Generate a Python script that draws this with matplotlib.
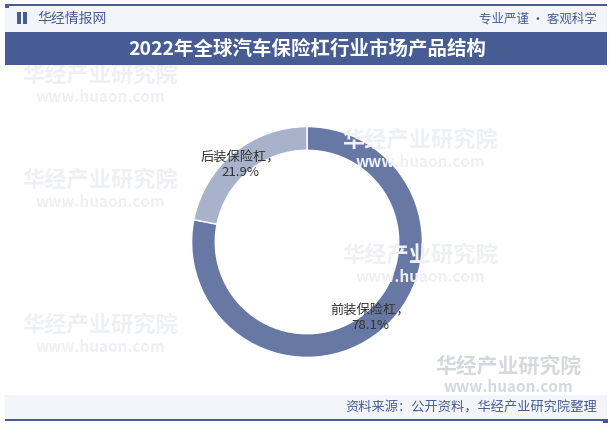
import matplotlib.pyplot as plt
from matplotlib.patches import Rectangle

plt.rcParams['font.family'] = ['Noto Sans CJK SC', 'DejaVu Sans']

# Data
categories = ['前装保险杠', '后装保险杠']
shares = [78.1, 21.9]
colors = ['#6778a4', '#a8b3cb']

title = '2022年全球汽车保险杠行业市场产品结构'
source = '资料来源：公开资料，华经产业研究院整理'

W, H = 612, 426
fig = plt.figure(figsize=(W / 100, H / 100), dpi=100)
fig.patch.set_facecolor('white')


def px(x, y):
    return x / W, 1 - y / H


# header / footer bands
fig.patches.append(Rectangle(px(5, 32), 602 / W, 26 / H, transform=fig.transFigure,
                             facecolor='#f3f5fa', edgecolor='none', zorder=0))
fig.patches.append(Rectangle(px(5, 65), 602 / W, 33 / H, transform=fig.transFigure,
                             facecolor='#465c92', edgecolor='none', zorder=1))
fig.patches.append(Rectangle(px(5, 420), 602 / W, 25 / H, transform=fig.transFigure,
                             facecolor='#f3f5fa', edgecolor='none', zorder=0))
fig.patches.append(Rectangle(px(5, 6), 602 / W, 1.6 / H, transform=fig.transFigure,
                             facecolor='#465c92', edgecolor='none', zorder=2))
fig.patches.append(Rectangle(px(5, 421), 602 / W, 1.6 / H, transform=fig.transFigure,
                             facecolor='#465c92', edgecolor='none', zorder=2))
fig.patches.append(Rectangle(px(5, 7.5), 4 / W, 3 / H, transform=fig.transFigure,
                             facecolor='#465c92', edgecolor='none', zorder=2))
fig.patches.append(Rectangle(px(603, 423), 5 / W, 4 / H, transform=fig.transFigure,
                             facecolor='#465c92', edgecolor='none', zorder=2))
# logo
fig.patches.append(Rectangle(px(17, 24), 3.5 / W, 12 / H, transform=fig.transFigure,
                             facecolor='#465c92', edgecolor='none', zorder=2))
fig.patches.append(Rectangle(px(23, 24), 3.5 / W, 12 / H, transform=fig.transFigure,
                             facecolor='#465c92', edgecolor='none', zorder=2))

fig.text(*px(37, 19), '华经情报网', fontsize=10, color='#465c92', va='center', ha='left')
fig.text(*px(597, 19), '专业严谨 • 客观科学', fontsize=9, color='#465c92', va='center', ha='right')
fig.text(*px(307, 49), title, fontsize=14, color='white', fontweight='bold',
         va='center', ha='center', zorder=3)
fig.text(*px(597, 408), source, fontsize=9.5, color='#465c92', va='center', ha='right')

# faint watermarks
for (x, y) in [(100, 75), (100, 180), (100, 325), (420, 140), (420, 255)]:
    fig.text(*px(x, y), '华经产业研究院', fontsize=16, color='#eef0f5', fontweight='bold',
             va='center', ha='center', zorder=0.5)
    fig.text(*px(x, y + 22), 'www.huaon.com', fontsize=11, color='#eef0f5', fontweight='bold',
             va='center', ha='center', zorder=0.5)
fig.text(*px(508, 366), '华经产业研究院', fontsize=15, color='#d5d8df', fontweight='bold',
         va='center', ha='center', zorder=0.5)
fig.text(*px(508, 387), 'www.huaon.com', fontsize=11, color='#d5d8df', fontweight='bold',
         va='center', ha='center', zorder=0.5)

# donut
side = 300
ax = fig.add_axes([(307 - side / 2) / W, (H - 242 - side / 2) / H, side / W, side / H])
ax.pie(shares, colors=colors, startangle=90, counterclock=False, radius=1,
       wedgeprops=dict(width=0.205, edgecolor='white', linewidth=1))
ax.set_xlim(-1.3, 1.3)
ax.set_ylim(-1.3, 1.3)
ax.set_aspect('equal')
ax.axis('off')
ax.patch.set_alpha(0)

label_pos = [(0.55, -0.66), (-0.58, 0.67)]
for cat, val, (lx, ly) in zip(categories, shares, label_pos):
    ax.text(lx, ly, f'{cat}，\n{val}%', fontsize=9.5, color='#333333',
            ha='center', va='center', linespacing=1.15)

fig.savefig('out.png', dpi=100)
